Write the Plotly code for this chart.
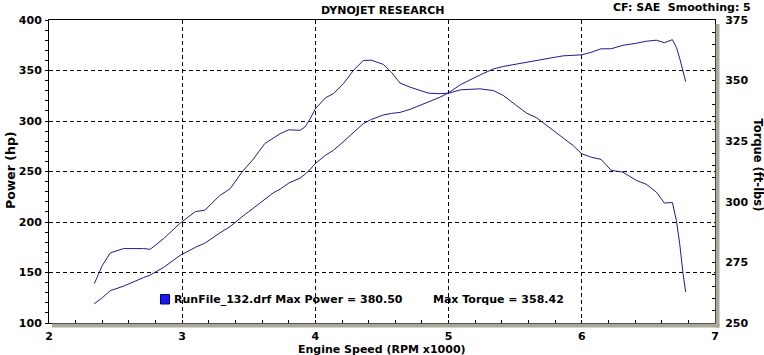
import plotly.graph_objects as go

# ---- data ----
rpm = [2.34, 2.40, 2.46, 2.56, 2.71, 2.76, 2.86, 2.985, 3.10, 3.17, 3.28, 3.36,
       3.448, 3.535, 3.62, 3.685, 3.735, 3.80, 3.885, 3.92, 3.96, 4.0, 4.075,
       4.135, 4.21, 4.285, 4.36, 4.42, 4.51, 4.57, 4.635, 4.71, 4.85, 4.935,
       5.0, 5.09, 5.235, 5.335, 5.41, 5.51, 5.585, 5.66, 5.77, 5.86, 5.935,
       6.0, 6.07, 6.145, 6.22, 6.31, 6.41, 6.485, 6.56, 6.62, 6.68, 6.71,
       6.735, 6.76, 6.78]

power_hp = [119, 125, 132, 136.5, 145, 147.5, 155, 167, 175, 179, 189, 195.5,
            205, 214, 223, 229, 232.5, 238.5, 243.5, 247, 252, 258, 266,
            271, 279.5, 289, 297.5, 301.5, 306, 307.5, 308.5, 311.5, 318.5, 323.5,
            328, 336, 345.5, 351.5, 354, 356.5, 358, 360.5, 362.5, 364.5, 365,
            365.5, 368, 371.5, 371.5, 375, 377, 379, 380, 377.5, 380.5, 373,
            362, 348, 339]

torque_ftlb = [266.2, 273.7, 278.9, 280.7, 280.7, 280.4, 284.8, 291.2, 296.0, 296.5, 302.5, 305.4,
               312.2, 317.7, 324.0, 326.4, 328.1, 329.7, 329.5, 330.8, 334.2, 338.4, 342.9,
               344.6, 348.7, 354.2, 358.3, 358.42, 356.7, 353.5, 349.0, 347.3, 344.8, 344.6,
               344.8, 346.2, 346.6, 345.9, 343.9, 339.7, 336.6, 334.7, 330.1, 326.7, 323.2,
               319.8, 318.4, 317.5, 313.0, 312.2, 308.8, 307.2, 304.0, 299.5, 299.7, 292.3,
               282.7, 270.4, 262.8]

x_ticks = [2, 3, 4, 5, 6, 7]
hp_ticks = [100, 150, 200, 250, 300, 350, 400]
tq_ticks = [250, 275, 300, 325, 350, 375]

run_file = "RunFile_132.drf"
max_power = "380.50"
max_torque = "358.42"

# ---- layout constants ----
W, H = 764, 355
L, R, T, B = 49, 49, 20, 32
PW, PH = W - L - R, H - T - B
LINE = "#1c1c8c"
GRAY = "#aba79b"
FONT = "DejaVu Sans"


def px(xp):
    return (xp - L) / PW


def py(yp):
    return (H - B - yp) / PH


tickfont = dict(family=FONT, size=11, color="black", weight="bold")

fig = go.Figure()
fig.add_trace(go.Scatter(x=rpm, y=power_hp, mode="lines",
                         line=dict(color=LINE, width=1), yaxis="y",
                         hoverinfo="skip"))
fig.add_trace(go.Scatter(x=rpm, y=torque_ftlb, mode="lines",
                         line=dict(color=LINE, width=1), yaxis="y2",
                         hoverinfo="skip"))

fig.update_layout(
    width=W, height=H,
    margin=dict(l=L, r=R, t=T, b=B, pad=0),
    paper_bgcolor="white", plot_bgcolor="white",
    showlegend=False,
    xaxis=dict(range=[2, 7], tickvals=x_ticks, ticks="inside", ticklen=3,
               tickcolor="black", tickwidth=1,
               minor=dict(dtick=0.2, ticks="inside", ticklen=3,
                          tickcolor="black", showgrid=False),
               showgrid=True, gridcolor="black", gridwidth=1, griddash="4px,3px",
               showline=True, linecolor="black", linewidth=1, mirror=True,
               zeroline=False, tickfont=tickfont, ticklabelstandoff=3,
               automargin=False, fixedrange=True),
    yaxis=dict(range=[100, 400], tickvals=hp_ticks, ticks="outside", ticklen=3,
               tickcolor="black",
               minor=dict(dtick=10, ticks="outside", ticklen=3,
                          tickcolor="black", showgrid=False),
               showgrid=True, gridcolor="black", gridwidth=1, griddash="4px,3px",
               showline=True, linecolor="black", linewidth=1, mirror=True,
               zeroline=False, tickfont=tickfont, ticklabelstandoff=1,
               automargin=False, fixedrange=True),
    yaxis3=dict(range=[100, 400], overlaying="y", side="left", dtick=10,
                ticks="inside", ticklen=3, tickcolor="black",
                showticklabels=False, showgrid=False, showline=False,
                zeroline=False, automargin=False, fixedrange=True),
    yaxis2=dict(range=[250, 375], overlaying="y", side="right",
                tickvals=tq_ticks, ticks="inside", ticklen=3, tickcolor="black",
                minor=dict(dtick=5, ticks="inside", ticklen=3,
                           tickcolor="black", showgrid=False),
                showgrid=False, showline=True, linecolor="black",
                zeroline=False, tickfont=tickfont, ticklabelstandoff=7,
                automargin=False, fixedrange=True),
)

# gray 3D shadow along bottom and right edges
fig.add_shape(type="rect", xref="paper", yref="paper",
              x0=px(L + 3), x1=px(W - R + 4.5), y0=py(H - B + 4.5), y1=py(H - B + 0.6),
              line=dict(width=0), fillcolor=GRAY, layer="above")
fig.add_shape(type="rect", xref="paper", yref="paper",
              x0=px(W - R + 0.6), x1=px(W - R + 4.5), y0=py(H - B + 4.5), y1=py(T + 4),
              line=dict(width=0), fillcolor=GRAY, layer="above")

# legend marker
fig.add_shape(type="rect", xref="paper", yref="paper",
              x0=px(160.5), x1=px(169.5), y0=py(304), y1=py(294.5),
              line=dict(color="#000060", width=1), fillcolor="#1818f0", layer="above")

ann = dict(xref="paper", yref="paper", showarrow=False)
bold = dict(family=FONT, size=11, color="black", weight="bold")

fig.add_annotation(text="DYNOJET RESEARCH", x=px(382.5), y=py(10.5),
                   xanchor="center", yanchor="middle", font=bold, **ann)
fig.add_annotation(text="CF: SAE\u00a0\u00a0Smoothing: 5", x=px(753), y=py(7.5),
                   xanchor="right", yanchor="middle", font=bold, **ann)
fig.add_annotation(text="Power (hp)", x=px(10), y=py(170), textangle=-90,
                   xanchor="center", yanchor="middle",
                   font=dict(bold, size=12.5), **ann)
fig.add_annotation(text="Torque (ft-lbs)", x=px(757.5), y=py(165), textangle=90,
                   xanchor="center", yanchor="middle",
                   font=dict(bold, size=11.5), **ann)
fig.add_annotation(text="Engine Speed (RPM x1000)", x=px(382), y=py(349),
                   xanchor="center", yanchor="middle", font=bold, **ann)
fig.add_annotation(text=f"{run_file} Max Power = {max_power}", x=px(171.5), y=py(299),
                   xanchor="left", yanchor="middle", font=bold, **ann)
fig.add_annotation(text=f"Max Torque = {max_torque}", x=px(431), y=py(299),
                   xanchor="left", yanchor="middle", font=bold, **ann)

fig.write_html("out.html", config={"displayModeBar": False})

# remove the browser's default page margin so the figure sits at (0, 0)
with open("out.html", "r", encoding="utf-8") as f:
    html = f.read()
html = html.replace("<head>", "<head><style>html,body{margin:0;padding:0;overflow:hidden;}</style>", 1)
with open("out.html", "w", encoding="utf-8") as f:
    f.write(html)
